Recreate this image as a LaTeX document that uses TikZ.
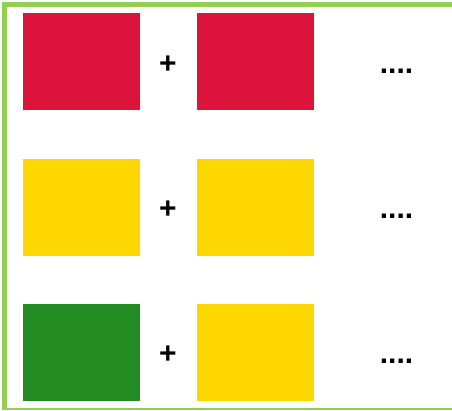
\documentclass[tikz,border=0pt]{standalone}
\usepackage{fontspec}
\setmainfont{Liberation Sans}
\definecolor{frameg}{HTML}{92D050}
\definecolor{cred}{HTML}{DC143C}
\definecolor{cyel}{HTML}{FFD700}
\definecolor{cgrn}{HTML}{228B22}
\begin{document}
\begin{tikzpicture}[x=1pt,y=-1pt,
  sq/.style={minimum width=117pt,minimum height=97pt,inner sep=0pt,anchor=north west,draw=none},
  plus/.style={font=\fontsize{30}{30}\selectfont\bfseries,inner sep=0pt},
  dots/.style={font=\fontsize{30}{30}\selectfont\bfseries,inner sep=0pt}]
\useasboundingbox (0,0) rectangle (452,410);
\fill[white] (0,0) rectangle (452,410);
% frame
\fill[frameg] (2,2) rectangle (452,7);
\fill[frameg] (2,2) rectangle (7,410);
\fill[frameg] (7,408) rectangle (452,410);
% rows
\node[sq,fill=cred] (a1) at (23,13) {};
\node[sq,fill=cred] (b1) at (197,13) {};
\node[sq,fill=cyel] (a2) at (23,159) {};
\node[sq,fill=cyel] (b2) at (197,159) {};
\node[sq,fill=cgrn] (a3) at (23,304) {};
\node[sq,fill=cyel] (b3) at (197,304) {};
\node[plus] (p1) at (168,65) {+};
\node[plus] (p2) at (168,210) {+};
\node[plus] (p3) at (168,355) {+};
\node[dots,anchor=base] (d1) at (396.5,73) {....};
\node[dots,anchor=base] (d2) at (396.5,218) {....};
\node[dots,anchor=base] (d3) at (396.5,363) {....};
\end{tikzpicture}
\end{document}
